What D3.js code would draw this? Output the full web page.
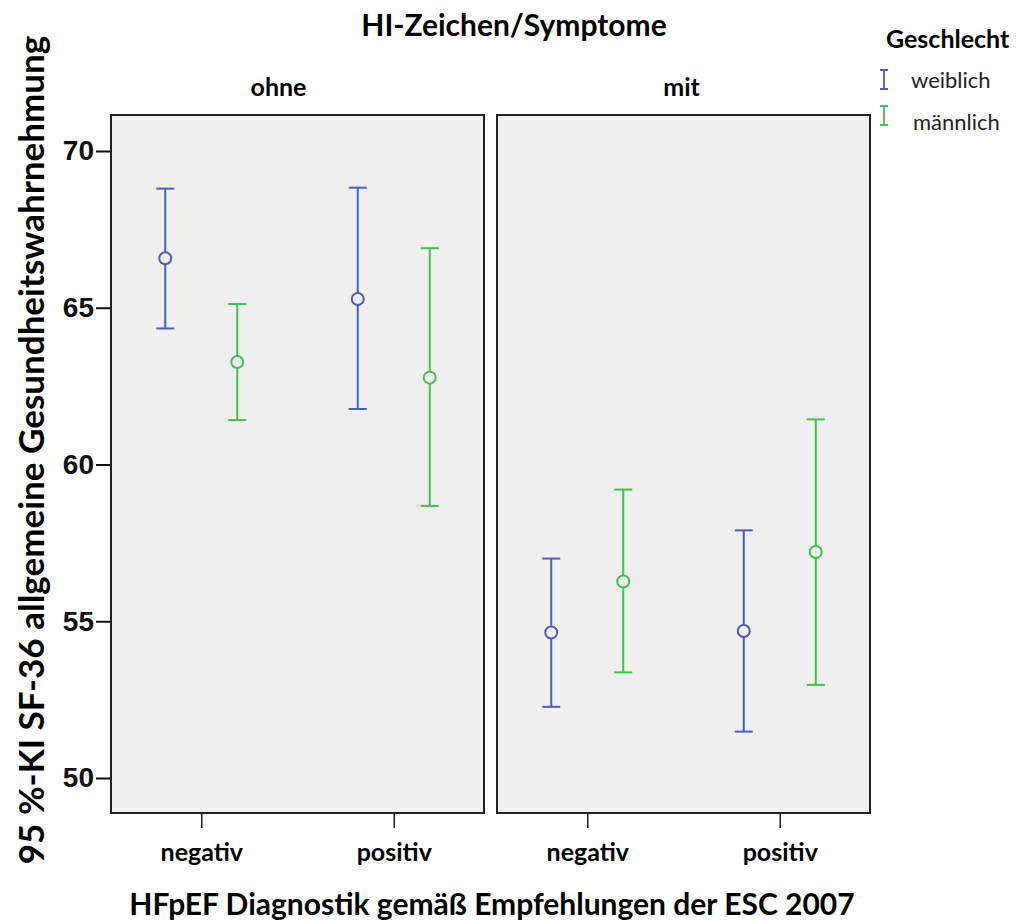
<!DOCTYPE html>
<html>
<head>
<meta charset="utf-8">
<script src="https://cdn.jsdelivr.net/npm/d3@7"></script>
<style>
  body { margin: 0; background: #fff; }
  text { font-family: Lato, "Open Sans", sans-serif; }
  .ytick text { font-family: "Liberation Sans", Arial, sans-serif; }
</style>
</head>
<body>
<div id="vis"></div>
<script>
// facets, categories and groups
var panels = ["ohne", "mit"];
var categories = ["negativ", "positiv"];
var sexes = ["weiblich", "männlich"];
var yTicks = [50, 55, 60, 65, 70];

// mean, lower and upper 95% CI, order: panel, category, sex
var means = [66.58, 63.27, 65.28, 62.77, 54.64, 56.27, 54.69, 57.21];
var lower = [64.34, 61.42, 61.77, 58.68, 52.27, 53.37, 51.48, 52.97];
var upper = [68.80, 65.12, 68.83, 66.90, 57.00, 59.20, 57.90, 61.44];

var data = [];
var k = 0;
panels.forEach(function(p) {
  categories.forEach(function(c) {
    sexes.forEach(function(s) {
      data.push({panel: p, cat: c, sex: s, mean: means[k], lo: lower[k], hi: upper[k]});
      k++;
    });
  });
});

var width = 1016, height = 921;
var plotTop = 115, plotBottom = 813;

var svg = d3.select("#vis").append("svg")
  .attr("width", width)
  .attr("height", height);

var color = d3.scaleOrdinal().domain(sexes).range(["#4a5fb6", "#3fc24f"]);

// y(70) sits at 151, y(50) at 778
var y = d3.scaleLinear()
  .domain([70 + (151 - plotTop) / 31.35, 50 - (plotBottom - 778) / 31.35])
  .range([plotTop, plotBottom]);

var panelX = d3.scaleOrdinal().domain(panels).range([111, 497]);
var panelW = 373;
// facet labels are not centred exactly in SPSS output
var labelShift = d3.scaleOrdinal().domain(panels).range([-19, -2]);

var x = d3.scalePoint().domain(categories).range([-6, panelW + 6]).padding(0.5);
var xSex = d3.scalePoint().domain(sexes).range([-36, 36]);

// main title
svg.append("text")
  .attr("x", 514).attr("y", 36)
  .attr("text-anchor", "middle")
  .style("font-size", "30px").style("font-weight", "bold")
  .text("HI-Zeichen/Symptome");

panels.forEach(function(p) {
  var g = svg.append("g").attr("transform", "translate(" + panelX(p) + ",0)");

  g.append("rect")
    .attr("x", 0).attr("y", plotTop)
    .attr("width", panelW).attr("height", plotBottom - plotTop)
    .attr("fill", "#f0f0f0")
    .attr("stroke", "#222")
    .attr("stroke-width", 2);

  g.append("text")
    .attr("x", panelW / 2 + labelShift(p)).attr("y", 96)
    .attr("text-anchor", "middle")
    .style("font-size", "25px").style("font-weight", "bold")
    .text(p);

  // x axis
  var xa = g.append("g").attr("transform", "translate(0," + plotBottom + ")")
    .call(d3.axisBottom(x).tickSize(15).tickPadding(15));
  xa.select(".domain").remove();
  xa.selectAll("line").attr("stroke", "#222").attr("stroke-width", 1.5);
  xa.selectAll("text")
    .style("font-family", "Lato, sans-serif")
    .style("font-size", "25px").style("font-weight", "bold")
    .attr("fill", "#000");

  var pts = g.selectAll(".ci")
    .data(data.filter(function(d) { return d.panel === p; }))
    .enter().append("g")
    .attr("transform", function(d) { return "translate(" + (x(d.cat) + xSex(d.sex)) + ",0)"; })
    .attr("stroke", function(d) { return color(d.sex); })
    .attr("stroke-width", 2)
    .attr("fill", "none");

  pts.append("line")
    .attr("y1", function(d) { return y(d.hi); })
    .attr("y2", function(d) { return y(d.mean) - 6; });
  pts.append("line")
    .attr("y1", function(d) { return y(d.mean) + 6; })
    .attr("y2", function(d) { return y(d.lo); });
  pts.append("line")
    .attr("x1", -9).attr("x2", 9)
    .attr("y1", function(d) { return y(d.hi); })
    .attr("y2", function(d) { return y(d.hi); });
  pts.append("line")
    .attr("x1", -9).attr("x2", 9)
    .attr("y1", function(d) { return y(d.lo); })
    .attr("y2", function(d) { return y(d.lo); });
  pts.append("circle")
    .attr("cy", function(d) { return y(d.mean); })
    .attr("r", 6);
});

// y axis
var ya = svg.append("g").attr("class", "ytick").attr("transform", "translate(111,0)")
  .call(d3.axisLeft(y).tickValues(yTicks).tickSize(15).tickPadding(2));
ya.select(".domain").remove();
ya.selectAll("line").attr("stroke", "#111").attr("stroke-width", 2);
ya.selectAll("text")
  .style("font-size", "28px").style("font-weight", "bold")
  .attr("fill", "#111");

// axis titles
svg.append("text")
  .attr("transform", "translate(44,450) rotate(-90)")
  .attr("text-anchor", "middle")
  .style("font-size", "35px").style("font-weight", "bold")
  .text("95 %-KI SF-36 allgemeine Gesundheitswahrnehmung");

svg.append("text")
  .attr("x", 492).attr("y", 915)
  .attr("text-anchor", "middle")
  .style("font-size", "30px").style("font-weight", "bold")
  .text("HFpEF Diagnostik gemäß Empfehlungen der ESC 2007");

// legend
var lg = svg.append("g").attr("transform", "translate(884,0)");
lg.append("text")
  .attr("x", 2).attr("y", 48)
  .style("font-size", "25px").style("font-weight", "bold")
  .text("Geschlecht");

var items = lg.selectAll(".item").data(sexes).enter().append("g")
  .attr("transform", function(d, i) { return "translate(0," + (80 + i * 36) + ")"; });
items.append("path")
  .attr("d", "M-4,-10H4M0,-10V9M-4,9H4")
  .attr("stroke", function(d) { return color(d); })
  .attr("stroke-width", 1.8)
  .attr("fill", "none");
items.append("text")
  .attr("x", function(d, i) { return 27 + i * 2; })
  .attr("y", function(d, i) { return 8 + i * 6; })
  .style("font-size", "22px")
  .attr("fill", "#222")
  .text(function(d) { return d; });
</script>
</body>
</html>
